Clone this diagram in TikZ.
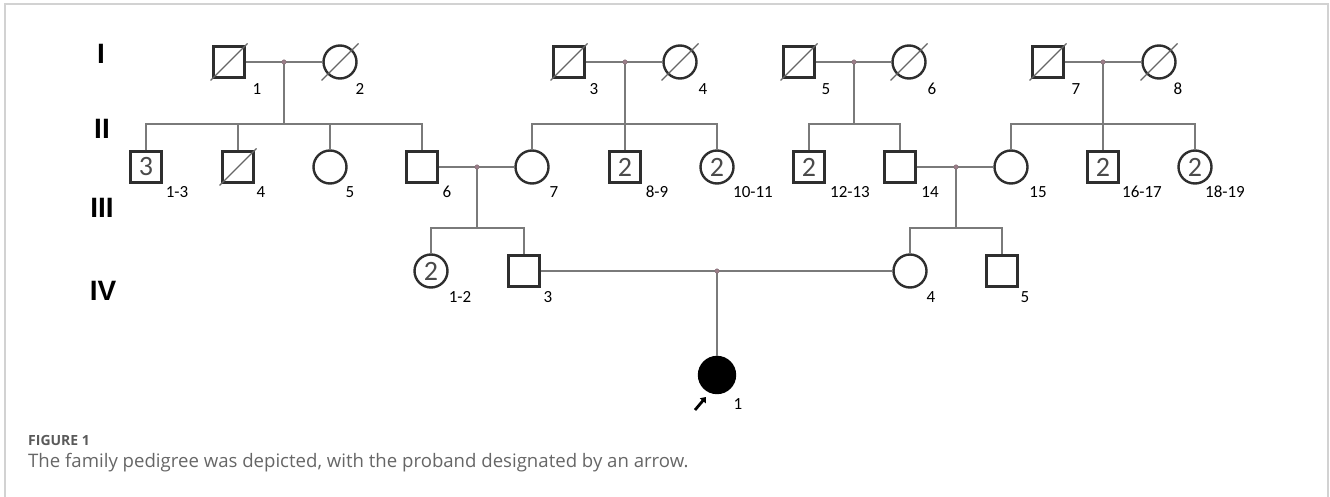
\documentclass[tikz,border=0pt]{standalone}
\usepackage{fontspec}
\setmainfont{Carlito}
\newfontfamily\genfont{Liberation Sans}
\newfontfamily\capfont{Open Sans}
\usetikzlibrary{calc,arrows.meta}
\definecolor{shapecol}{HTML}{2E2E2E}
\definecolor{linecol}{HTML}{7A7A7A}
\definecolor{dotcol}{HTML}{9C7F8A}
\definecolor{framecol}{HTML}{D2D2D2}
\definecolor{capcol}{HTML}{666666}
\definecolor{figcol}{HTML}{5A5A5A}
\definecolor{numcol}{HTML}{4A4A4A}
\newcommand\deadmark[1]{\draw[slash] ($(#1)+(-18.5,18.5)$) -- ($(#1)+(18.5,-18.5)$);}
\begin{document}
\begin{tikzpicture}[x=1pt,y=-1pt,
  male/.style={draw=shapecol,line width=2.4pt,rectangle,minimum size=31pt,inner sep=0pt,
    font=\fontsize{28}{28}\selectfont,text=numcol},
  female/.style={draw=shapecol,line width=2.4pt,circle,minimum size=33pt,inner sep=0pt,
    font=\fontsize{28}{28}\selectfont,text=numcol},
  affected/.style={female,fill=black,draw=black,minimum size=36pt},
  slash/.style={draw=black!60,line width=1.1pt},
  conn/.style={draw=linecol,line width=2pt},
  mdot/.style={circle,fill=dotcol,draw=dotcol!80!black,line width=0.4pt,minimum size=4.5pt,inner sep=0pt},
  idlabel/.style={font=\fontsize{17}{17}\selectfont,text=black},
  gen/.style={font=\genfont\bfseries\fontsize{28}{28}\selectfont},
]
\useasboundingbox (0,0) rectangle (1330,497);
% frame
\draw[framecol,line width=1.5pt] (5,497) -- (5,4) -- (1328,4) -- (1328,497);

% generation labels
\node[gen] (gI) at (101,54) {I};
\node[gen] (gII) at (102,129) {II};
\node[gen] (gIII) at (102,208) {III};
\node[gen] (gIV) at (103,291) {IV};

% generation I
\node[male] (I1) at (229,62) {};
\node[female] (I2) at (340,62) {};
\node[male] (I3) at (569,62) {};
\node[female] (I4) at (680,62) {};
\node[male] (I5) at (799,62) {};
\node[female] (I6) at (909,62) {};
\node[male] (I7) at (1048,62) {};
\node[female] (I8) at (1159,62) {};
\coordinate (m12) at (284,62);
\coordinate (m34) at (625,62);
\coordinate (m56) at (854,62);
\coordinate (m78) at (1103,62);

% generation II
\node[male] (II13) at (146,167) {3};
\node[male] (II4) at (238,167) {};
\node[female] (II5) at (330,167) {};
\node[male] (II6) at (422,167) {};
\node[female] (II7) at (532,167) {};
\node[male] (II89) at (625,167) {2};
\node[female] (II1011) at (717,167) {2};
\node[male] (II1213) at (809,167) {2};
\node[male] (II14) at (900,167) {};
\node[female] (II15) at (1011,167) {};
\node[male] (II1617) at (1103,167) {2};
\node[female] (II1819) at (1195,167) {2};
\coordinate (m67) at (477,167);
\coordinate (m1415) at (956,167);

% generation III
\node[female] (III12) at (431,271) {2};
\node[male] (III3) at (524,271) {};
\node[female] (III4) at (910,271) {};
\node[male] (III5) at (1002,271) {};
\coordinate (m34b) at (717,271);

% generation IV
\node[affected] (IV1) at (717,375) {};

% sibship line anchors
\coordinate (s1) at (284,124);
\coordinate (s2) at (625,124);
\coordinate (s3) at (854,124);
\coordinate (s4) at (1103,124);
\coordinate (s5) at (477,228);
\coordinate (s6) at (956,228);

% marriage lines
\draw[conn] (I1) -- (I2);
\draw[conn] (I3) -- (I4);
\draw[conn] (I5) -- (I6);
\draw[conn] (I7) -- (I8);
\draw[conn] (II6) -- (II7);
\draw[conn] (II14) -- (II15);
\draw[conn] (III3) -- (III4);

% descent lines
\draw[conn] (m12) -- (s1);
\draw[conn] (II13.north) |- (s1) -| (II6.north);
\draw[conn] (II4.north) -- (II4.north |- s1);
\draw[conn] (II5.north) -- (II5.north |- s1);

\draw[conn] (m34) -- (II89.north);
\draw[conn] (II7.north) |- (s2) -| (II1011.north);

\draw[conn] (m56) -- (s3);
\draw[conn] (II1213.north) |- (s3) -| (II14.north);

\draw[conn] (m78) -- (II1617.north);
\draw[conn] (II15.north) |- (s4) -| (II1819.north);

\draw[conn] (m67) -- (s5);
\draw[conn] (III12.north) |- (s5) -| (III3.north);

\draw[conn] (m1415) -- (s6);
\draw[conn] (III4.north) |- (s6) -| (III5.north);

\draw[conn] (m34b) -- (IV1);

% marriage dots
\foreach \d in {m12,m34,m56,m78,m67,m1415,m34b} \node[mdot] at (\d) {};

% deceased marks
\deadmark{I1}\deadmark{I2}\deadmark{I3}\deadmark{I4}
\deadmark{I5}\deadmark{I6}\deadmark{I7}\deadmark{I8}
\deadmark{II4}

% ID labels
\node[idlabel] (l1) at (257,89) {1};
\node[idlabel] (l2) at (360,89) {2};
\node[idlabel] (l3) at (594,89) {3};
\node[idlabel] (l4) at (703,89) {4};
\node[idlabel] (l5) at (826,89) {5};
\node[idlabel] (l6) at (932,89) {6};
\node[idlabel] (l7) at (1076,89) {7};
\node[idlabel] (l8) at (1178,89) {8};

\node[idlabel] (lII13) at (177,192) {1-3};
\node[idlabel] (lII4) at (261,192) {4};
\node[idlabel] (lII5) at (350,192) {5};
\node[idlabel] (lII6) at (447,192) {6};
\node[idlabel] (lII7) at (554,192) {7};
\node[idlabel] (lII89) at (657,192) {8-9};
\node[idlabel] (lII1011) at (753,192) {10-11};
\node[idlabel] (lII1213) at (850,192) {12-13};
\node[idlabel] (lII14) at (930,192) {14};
\node[idlabel] (lII15) at (1038,192) {15};
\node[idlabel] (lII1617) at (1142,192) {16-17};
\node[idlabel] (lII1819) at (1225,192) {18-19};

\node[idlabel] (lIII12) at (460,297) {1-2};
\node[idlabel] (lIII3) at (548,297) {3};
\node[idlabel] (lIII4) at (931,297) {4};
\node[idlabel] (lIII5) at (1025,297) {5};

\node[idlabel] (lIV1) at (738,404) {1};

% proband arrow
\coordinate (pa) at (695,410);
\coordinate (pb) at (706,397);
\draw[line width=2.8pt,-{Triangle[length=5pt,width=7.5pt]}] (pa) -- (pb);

% caption
\node[anchor=base west,inner sep=0pt,font=\capfont\bfseries\fontsize{14}{14}\selectfont,text=figcol] (fig) at (28,445) {FIGURE 1};
\node[anchor=base west,inner sep=0pt,font=\capfont\fontsize{18.6}{18.6}\selectfont,text=capcol] (cap) at (28,467) {The family pedigree was depicted, with the proband designated by an arrow.};
\end{tikzpicture}
\end{document}
